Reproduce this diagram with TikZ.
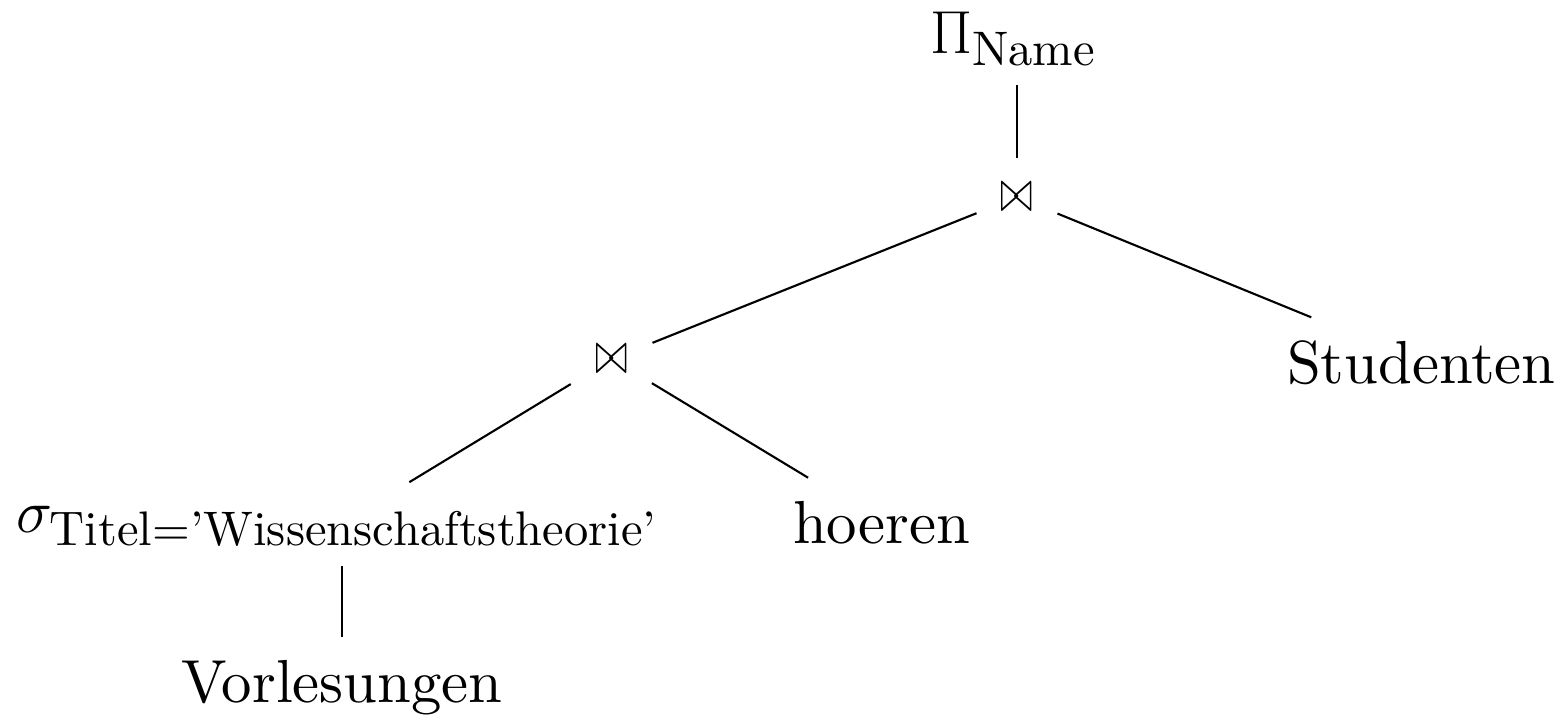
\RequirePackage{fix-cm}
\documentclass[tikz,border=0pt]{standalone}
\usepackage{amsmath}
\usepackage{fontspec}
\setmainfont{lmroman10-regular.otf}
\usepackage{graphicx}
\usetikzlibrary{calc}
\DeclareMathSizes{17.28}{17.28}{13.8}{10}
\begin{document}
\begin{tikzpicture}[x=0.01cm,y=-0.01cm,
  lbl/.style={inner sep=0pt,outer sep=0pt,font=\fontsize{17.28}{20}\selectfont},
  edge/.style={line width=0.6pt,black}]
\useasboundingbox (0,0) rectangle (1567,720);
% nodes
\node[lbl,anchor=base west] (pi) at (930,53) {$\Pi_{\text{Name}}$};
\node[lbl] (j1) at (1017,197) {\scalebox{0.65}[1]{$\bowtie$}};
\node[lbl] (j2) at (612,359) {\scalebox{0.65}[1]{$\bowtie$}};
\node[lbl,anchor=base west] (stud) at (1287,383) {Studenten};
\node[lbl,anchor=base west] (sigma) at (16,532) {$\sigma_{\text{Titel='Wissenschaftstheorie'}}$};
\node[lbl,anchor=base west] (hoeren) at (793,543) {hoeren};
\node[lbl,anchor=base] (vorl) at (342,702) {Vorlesungen};
% connectors
\coordinate (piB) at (j1 |- pi.base);
\draw[edge] ($(j1)!0.271!(piB)$) -- ($(j1)!0.778!(piB)$);
\draw[edge] ($(j1)!0.10!(j2)$) -- ($(j1)!0.90!(j2)$);
\draw[edge] ($(j1)!0.10!(stud)$) -- ($(j1)!0.728!(stud)$);
\draw[edge] ($(j2)!0.15!(sigma)$) -- ($(j2)!0.737!(sigma)$);
\draw[edge] ($(j2)!0.148!(hoeren)$) -- ($(j2)!0.727!(hoeren)$);
\coordinate (vt) at (vorl |- sigma);
\draw[edge] ($(vorl)!0.314!(vt)$) -- ($(vorl)!0.755!(vt)$);
\end{tikzpicture}
\end{document}
